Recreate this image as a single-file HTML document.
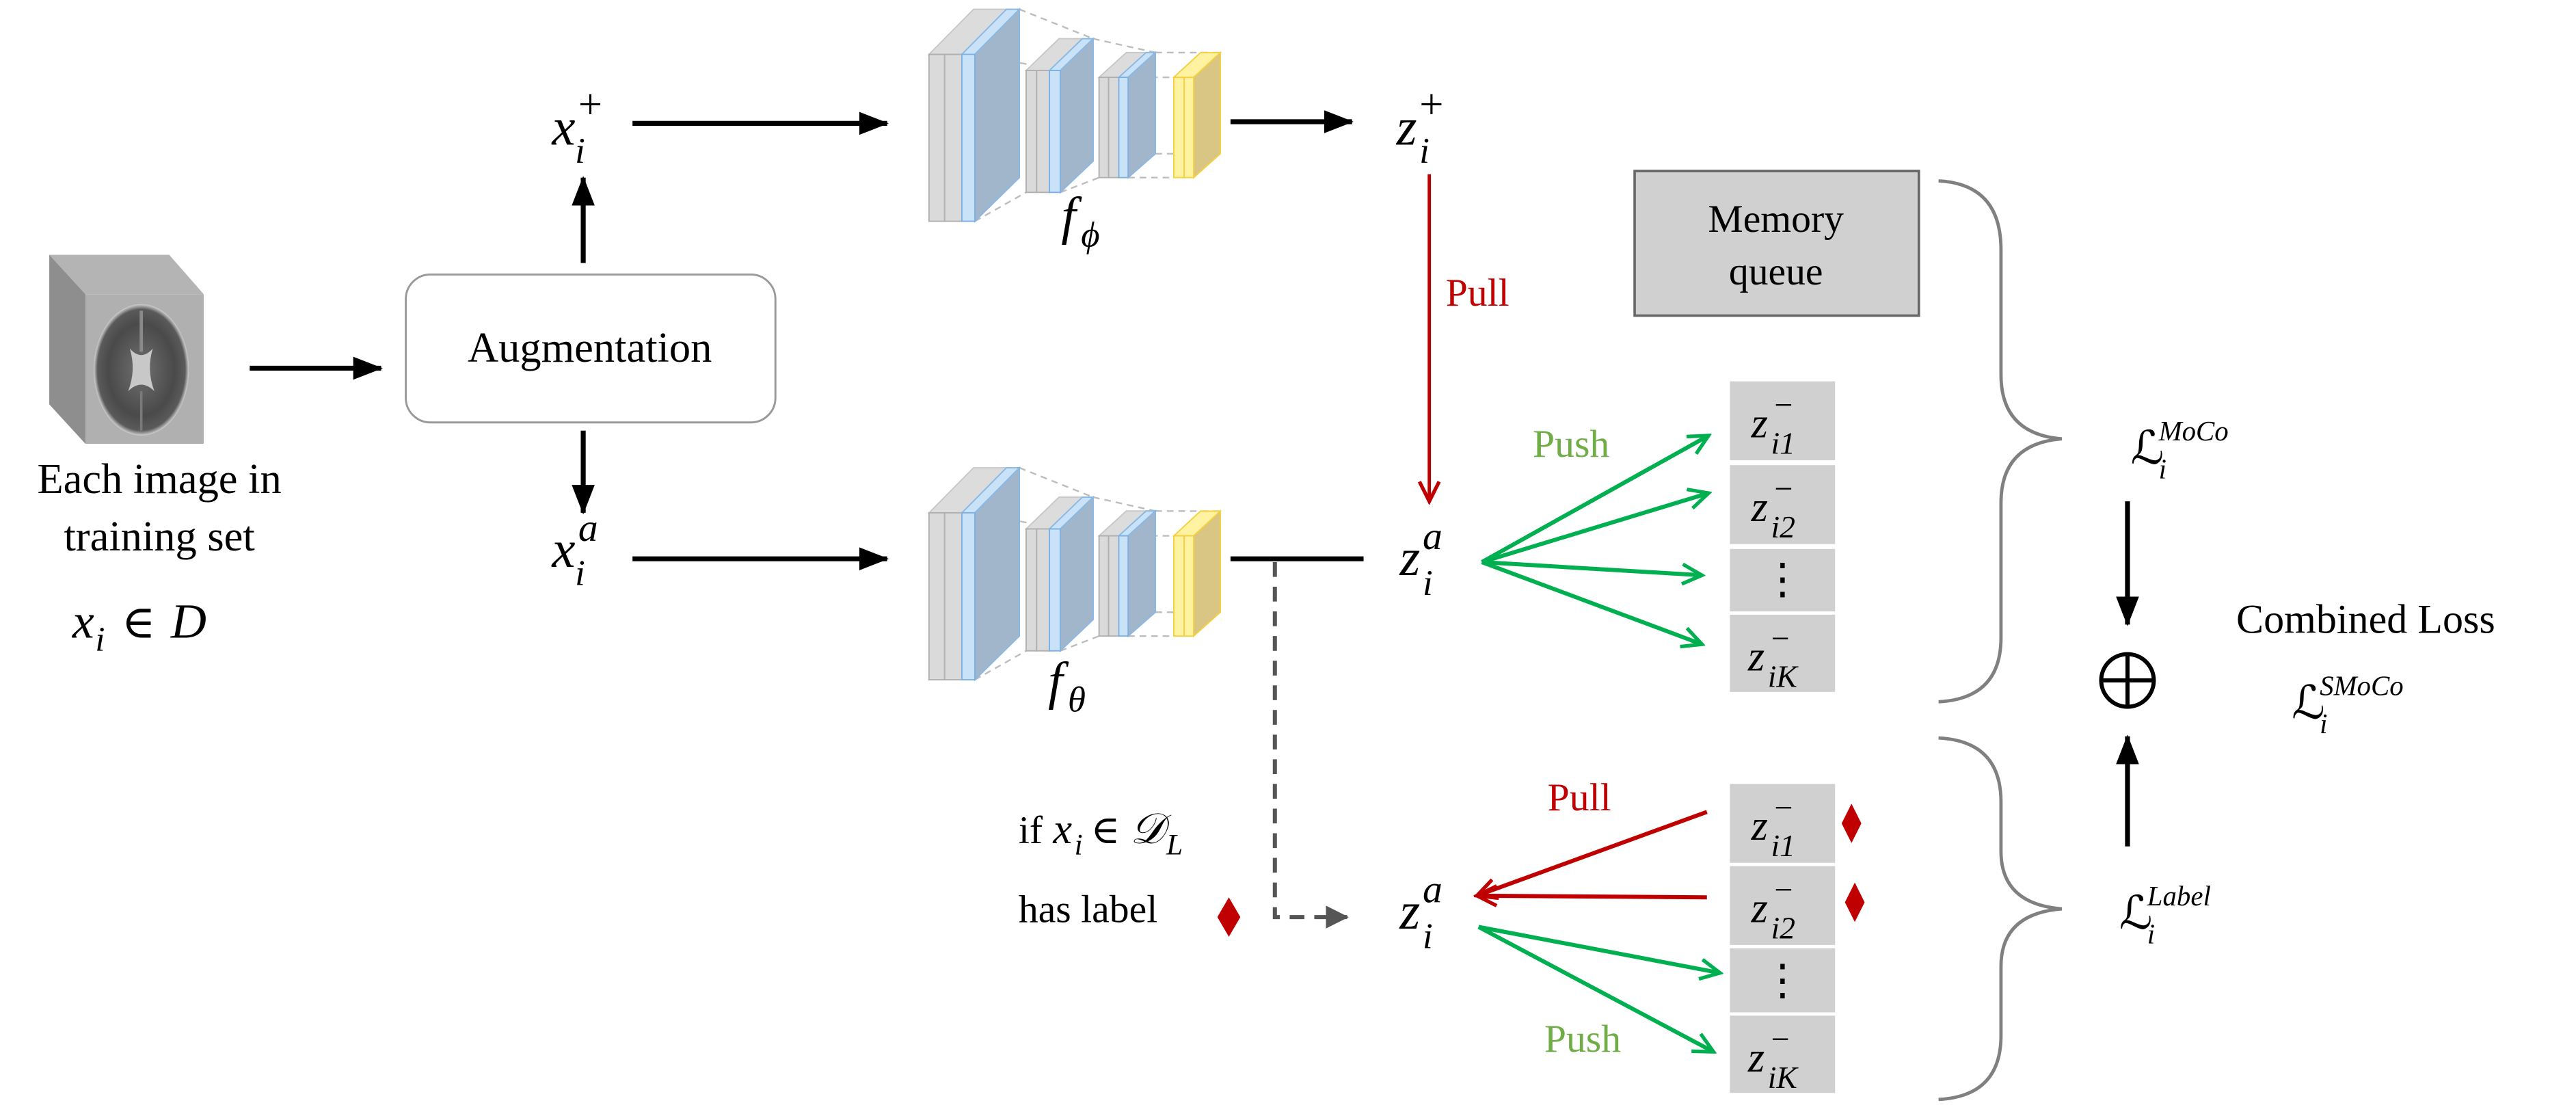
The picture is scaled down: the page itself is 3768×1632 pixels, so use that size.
<!DOCTYPE html>
<html><head><meta charset="utf-8"><style>
html,body{margin:0;padding:0;background:#fff}
svg{display:block}
text{font-family:"Liberation Serif","DejaVu Serif",serif;fill:#000}
.m{font-style:italic}
.L{font-family:"DejaVu Serif","Liberation Serif",serif}
</style></head><body>
<svg width="3768" height="1632" viewBox="0 0 1568 679" xmlns="http://www.w3.org/2000/svg">
<defs>
<marker id="ab" markerWidth="18" markerHeight="14" refX="17" refY="7" orient="auto" markerUnits="userSpaceOnUse" viewBox="0 0 18 14"><path d="M0,0 L18,7 L0,14 z" fill="#000"/></marker>
<marker id="ad" markerWidth="14" markerHeight="14" refX="13" refY="7" orient="auto" markerUnits="userSpaceOnUse" viewBox="0 0 14 14"><path d="M0,0 L14,7 L0,14 z" fill="#555"/></marker>
<marker id="ar" markerWidth="16" markerHeight="16" refX="14" refY="8" orient="auto" markerUnits="userSpaceOnUse" viewBox="0 0 16 16"><path d="M2,2 L14,8 L2,14" fill="none" stroke="#c00000" stroke-width="2.2"/></marker>
<marker id="ag" markerWidth="16" markerHeight="16" refX="14" refY="8" orient="auto" markerUnits="userSpaceOnUse" viewBox="0 0 16 16"><path d="M2,2 L14,8 L2,14" fill="none" stroke="#00b050" stroke-width="2.2"/></marker>
<radialGradient id="bg" cx="50%" cy="50%" r="50%">
<stop offset="0" stop-color="#707070"/><stop offset="0.7" stop-color="#4a4a4a"/><stop offset="0.92" stop-color="#5a5a5a"/><stop offset="1" stop-color="#d0d0d0"/>
</radialGradient>
<g id="net">
 <g stroke="#bdbdbd" stroke-width="1" stroke-dasharray="4 3" fill="none">
  <line x1="620.5" y1="284.6" x2="665.4" y2="302.5"/><line x1="593.4" y1="413.6" x2="624.6" y2="396"/>
  <line x1="593.4" y1="312" x2="645.4" y2="321.8"/>
  <line x1="665.4" y1="302.5" x2="703.3" y2="310.9"/><line x1="645.4" y1="396" x2="669" y2="387"/>
  <line x1="703.3" y1="310.9" x2="742.8" y2="311"/><line x1="686.7" y1="326" x2="714.5" y2="326"/>
  <line x1="703.3" y1="372.5" x2="714.5" y2="372.5"/><line x1="686.7" y1="387" x2="714.5" y2="387"/>
 </g>
 <polygon points="565.5,312 592.6,284.6 620.5,284.6 593.4,312" fill="#dcdcdc" stroke="#c8c8c8" stroke-width="0.8"/>
 <polygon points="585.5,312 612.6,284.6 620.5,284.6 593.4,312" fill="#c9e2f8" stroke="#8ab8e5" stroke-width="0.8"/>
 <polygon points="593.4,312 620.5,284.6 620.5,387 593.4,413.6" fill="#a2b6cb" stroke="#8ab8e5" stroke-width="0.8"/>
 <rect x="565.5" y="312" width="9.5" height="101.6" fill="#dadada" stroke="#b0b0b0" stroke-width="0.8"/>
 <rect x="575" y="312" width="10.5" height="101.6" fill="#dadada" stroke="#b0b0b0" stroke-width="0.8"/>
 <rect x="585.5" y="312" width="7.9" height="101.6" fill="#c9e2f8" stroke="#7eb1e2" stroke-width="0.8"/>
 <polygon points="624.6,321.8 644.6,302.5 665.4,302.5 645.4,321.8" fill="#dcdcdc" stroke="#c8c8c8" stroke-width="0.8"/>
 <polygon points="638.8,321.8 658.8,302.5 665.4,302.5 645.4,321.8" fill="#c9e2f8" stroke="#8ab8e5" stroke-width="0.8"/>
 <polygon points="645.4,321.8 665.4,302.5 665.4,377 645.4,396" fill="#a2b6cb" stroke="#8ab8e5" stroke-width="0.8"/>
 <rect x="624.6" y="321.8" width="6.4" height="74.2" fill="#dadada" stroke="#b0b0b0" stroke-width="0.8"/>
 <rect x="631" y="321.8" width="7.8" height="74.2" fill="#dadada" stroke="#b0b0b0" stroke-width="0.8"/>
 <rect x="638.8" y="321.8" width="6.6" height="74.2" fill="#c9e2f8" stroke="#7eb1e2" stroke-width="0.8"/>
 <polygon points="669,326 685.6,310.9 703.3,310.9 686.7,326" fill="#dcdcdc" stroke="#c8c8c8" stroke-width="0.8"/>
 <polygon points="681,326 697.6,310.9 703.3,310.9 686.7,326" fill="#c9e2f8" stroke="#8ab8e5" stroke-width="0.8"/>
 <polygon points="686.7,326 703.3,310.9 703.3,372.5 686.7,387" fill="#a2b6cb" stroke="#8ab8e5" stroke-width="0.8"/>
 <rect x="669" y="326" width="5.8" height="61" fill="#dadada" stroke="#b0b0b0" stroke-width="0.8"/>
 <rect x="674.8" y="326" width="6.2" height="61" fill="#dadada" stroke="#b0b0b0" stroke-width="0.8"/>
 <rect x="681" y="326" width="5.7" height="61" fill="#c9e2f8" stroke="#7eb1e2" stroke-width="0.8"/>
 <polygon points="714.5,326 730.7,311 742.8,311 726.6,326" fill="#fff2a0" stroke="#f5d040" stroke-width="0.8"/>
 <polygon points="726.6,326 742.8,311 742.8,372.5 726.6,387" fill="#d9c584" stroke="#f5d040" stroke-width="0.8"/>
 <rect x="714.5" y="326" width="6.3" height="61" fill="#fff2a0" stroke="#f5d040" stroke-width="0.8"/>
 <rect x="720.8" y="326" width="5.8" height="61" fill="#fff2a0" stroke="#f5d040" stroke-width="0.8"/>
</g>
</defs>

<!-- brain cube -->
<polygon points="30,155 103,155 124,179 52,179" fill="#b4b4b4"/>
<polygon points="30,155 52,179 52,270 30,246" fill="#8e8e8e"/>
<rect x="52" y="179" width="72" height="91" fill="#b0b0b0"/>
<ellipse cx="86" cy="225" rx="29" ry="40" fill="url(#bg)"/>
<path d="M79,212 Q86,220 93,212 Q89,225 94,238 Q86,230 78,238 Q83,225 79,212 z" fill="#c8c8c8"/>
<line x1="86" y1="189" x2="86" y2="214" stroke="#8a8a8a" stroke-width="2"/>
<line x1="86" y1="238" x2="86" y2="262" stroke="#7a7a7a" stroke-width="1.5"/>

<text x="97" y="300" font-size="26" text-anchor="middle">Each image in</text>
<text x="97" y="335" font-size="26" text-anchor="middle">training set</text>
<text x="44" y="388" font-size="30" class="m">x</text><text x="58" y="396" font-size="21" class="m">i</text><text x="74" y="388" font-size="28">∈</text><text x="104" y="388" font-size="30" class="m">D</text>

<line x1="152" y1="224" x2="232" y2="224" stroke="#000" stroke-width="3" marker-end="url(#ab)"/>
<rect x="247" y="167" width="225" height="90" rx="15" fill="#fff" stroke="#999" stroke-width="1.2"/>
<text x="359" y="220" font-size="26" text-anchor="middle">Augmentation</text>
<line x1="355" y1="160" x2="355" y2="108" stroke="#000" stroke-width="3" marker-end="url(#ab)"/>
<line x1="355" y1="262" x2="355" y2="312" stroke="#000" stroke-width="3" marker-end="url(#ab)"/>

<text x="336" y="88" font-size="32" class="m">x</text><text x="350" y="99" font-size="22" class="m">i</text><text x="352" y="72" font-size="26">+</text>
<text x="336" y="345" font-size="32" class="m">x</text><text x="350" y="356" font-size="22" class="m">i</text><text x="352" y="329" font-size="24" class="m">a</text>

<line x1="385" y1="75" x2="540" y2="75" stroke="#000" stroke-width="3" marker-end="url(#ab)"/>
<line x1="385" y1="340" x2="540" y2="340" stroke="#000" stroke-width="3" marker-end="url(#ab)"/>

<use href="#net" transform="translate(0,-279)"/>
<use href="#net"/>
<text x="646" y="142" font-size="32" class="m">f</text><text x="658" y="150" font-size="22" class="m">ϕ</text>
<text x="638" y="425" font-size="32" class="m">f</text><text x="650" y="433" font-size="22" class="m">θ</text>

<line x1="749" y1="74" x2="823" y2="74" stroke="#000" stroke-width="3" marker-end="url(#ab)"/>
<line x1="749" y1="340" x2="830" y2="340" stroke="#000" stroke-width="3"/>
<path d="M776,342 L776,558 L820,558" fill="none" stroke="#555" stroke-width="2.5" stroke-dasharray="9 6" marker-end="url(#ad)"/>

<text x="850" y="88" font-size="32" class="m">z</text><text x="864" y="99" font-size="22" class="m">i</text><text x="864" y="72" font-size="26">+</text>
<text x="852" y="350" font-size="32" class="m">z</text><text x="866" y="362" font-size="22" class="m">i</text><text x="866" y="334" font-size="24" class="m">a</text>
<text x="852" y="565" font-size="32" class="m">z</text><text x="866" y="577" font-size="22" class="m">i</text><text x="866" y="549" font-size="24" class="m">a</text>

<line x1="870" y1="106" x2="870" y2="305" stroke="#c00000" stroke-width="2" marker-end="url(#ar)"/>
<text x="880" y="186" font-size="24" style="fill:#c00000">Pull</text>

<g stroke="#00b050" stroke-width="2.5" fill="none">
<line x1="902" y1="342" x2="1040" y2="265" marker-end="url(#ag)"/>
<line x1="902" y1="342" x2="1040" y2="300" marker-end="url(#ag)"/>
<line x1="902" y1="342" x2="1036" y2="350" marker-end="url(#ag)"/>
<line x1="902" y1="342" x2="1036" y2="392" marker-end="url(#ag)"/>
<line x1="900" y1="564" x2="1047" y2="592" marker-end="url(#ag)"/>
<line x1="900" y1="564" x2="1043" y2="640" marker-end="url(#ag)"/>
</g>
<text x="933" y="278" font-size="24" style="fill:#70ad47">Push</text>
<text x="940" y="640" font-size="24" style="fill:#70ad47">Push</text>

<g stroke="#c00000" stroke-width="2.5" fill="none">
<line x1="1039" y1="494" x2="899" y2="545" marker-end="url(#ar)"/>
<line x1="1039" y1="546" x2="899" y2="545" marker-end="url(#ar)"/>
</g>
<text x="942" y="493" font-size="24" style="fill:#c00000">Pull</text>

<g fill="#d0d0d0">
<rect x="1053" y="232" width="64" height="48"/><rect x="1053" y="283" width="64" height="48"/>
<rect x="1053" y="334" width="64" height="38"/><rect x="1053" y="374" width="64" height="47"/>
<rect x="1053" y="477" width="64" height="48"/><rect x="1053" y="527" width="64" height="48"/>
<rect x="1053" y="577" width="64" height="39"/><rect x="1053" y="618" width="64" height="47"/>
</g>
<g font-size="26">
<text x="1066" y="266" class="m">z</text><text x="1078" y="276" font-size="19" class="m">i1</text><text x="1080" y="253" font-size="20">−</text>
<text x="1066" y="317" class="m">z</text><text x="1078" y="327" font-size="19" class="m">i2</text><text x="1080" y="304" font-size="20">−</text>
<text x="1085" y="361" text-anchor="middle">⋮</text>
<text x="1064" y="408" class="m">z</text><text x="1076" y="418" font-size="19" class="m">iK</text><text x="1078" y="395" font-size="20">−</text>
<text x="1066" y="511" class="m">z</text><text x="1078" y="521" font-size="19" class="m">i1</text><text x="1080" y="498" font-size="20">−</text>
<text x="1066" y="561" class="m">z</text><text x="1078" y="571" font-size="19" class="m">i2</text><text x="1080" y="548" font-size="20">−</text>
<text x="1085" y="605" text-anchor="middle">⋮</text>
<text x="1064" y="652" class="m">z</text><text x="1076" y="662" font-size="19" class="m">iK</text><text x="1078" y="639" font-size="20">−</text>
</g>
<polygon points="1127,489 1133,501 1127,513 1121,501" fill="#c00000"/>
<polygon points="1129,537 1135,549 1129,561 1123,549" fill="#c00000"/>
<polygon points="748,546 755,558 748,570 741,558" fill="#c00000"/>

<text x="620" y="513" font-size="24">if</text><text x="641" y="513" font-size="26" class="m">x</text><text x="654" y="520" font-size="18" class="m">i</text><text x="664" y="513" font-size="24">∈</text><text x="688" y="513" font-size="26" class="m" style="font-family:'DejaVu Serif',serif">𝒟</text><text x="710" y="520" font-size="18" class="m">L</text>
<text x="620" y="561" font-size="24">has label</text>

<rect x="995" y="104" width="173" height="88" fill="#d0d0d0" stroke="#666" stroke-width="1.5"/>
<text x="1081" y="141" font-size="24" text-anchor="middle">Memory</text>
<text x="1081" y="173" font-size="24" text-anchor="middle">queue</text>

<g stroke="#808080" stroke-width="2" fill="none">
<path d="M1180,110 Q1218,112 1218,152 L1218,228 Q1218,264 1255,267 Q1218,270 1218,306 L1218,388 Q1218,425 1180,427"/>
<path d="M1180,449 Q1218,451 1218,488 L1218,518 Q1218,550 1255,553 Q1218,556 1218,588 L1218,630 Q1218,667 1180,669"/>
</g>

<text x="1297" y="282" font-size="28" class="L">ℒ</text><text x="1314" y="291" font-size="17" class="m">i</text><text x="1314" y="268" font-size="17" class="m">MoCo</text>
<text x="1290" y="565" font-size="28" class="L">ℒ</text><text x="1307" y="574" font-size="17" class="m">i</text><text x="1307" y="551" font-size="17" class="m">Label</text>
<text x="1395" y="437" font-size="28" class="L">ℒ</text><text x="1412" y="446" font-size="17" class="m">i</text><text x="1412" y="423" font-size="17" class="m">SMoCo</text>
<text x="1440" y="385" font-size="25" text-anchor="middle">Combined Loss</text>

<line x1="1295" y1="305" x2="1295" y2="380" stroke="#000" stroke-width="3" marker-end="url(#ab)"/>
<line x1="1295" y1="515" x2="1295" y2="448" stroke="#000" stroke-width="3" marker-end="url(#ab)"/>
<circle cx="1295" cy="414" r="16" fill="none" stroke="#000" stroke-width="2.5"/>
<line x1="1279" y1="414" x2="1311" y2="414" stroke="#000" stroke-width="2.5"/>
<line x1="1295" y1="398" x2="1295" y2="430" stroke="#000" stroke-width="2.5"/>
</svg>
</body></html>
